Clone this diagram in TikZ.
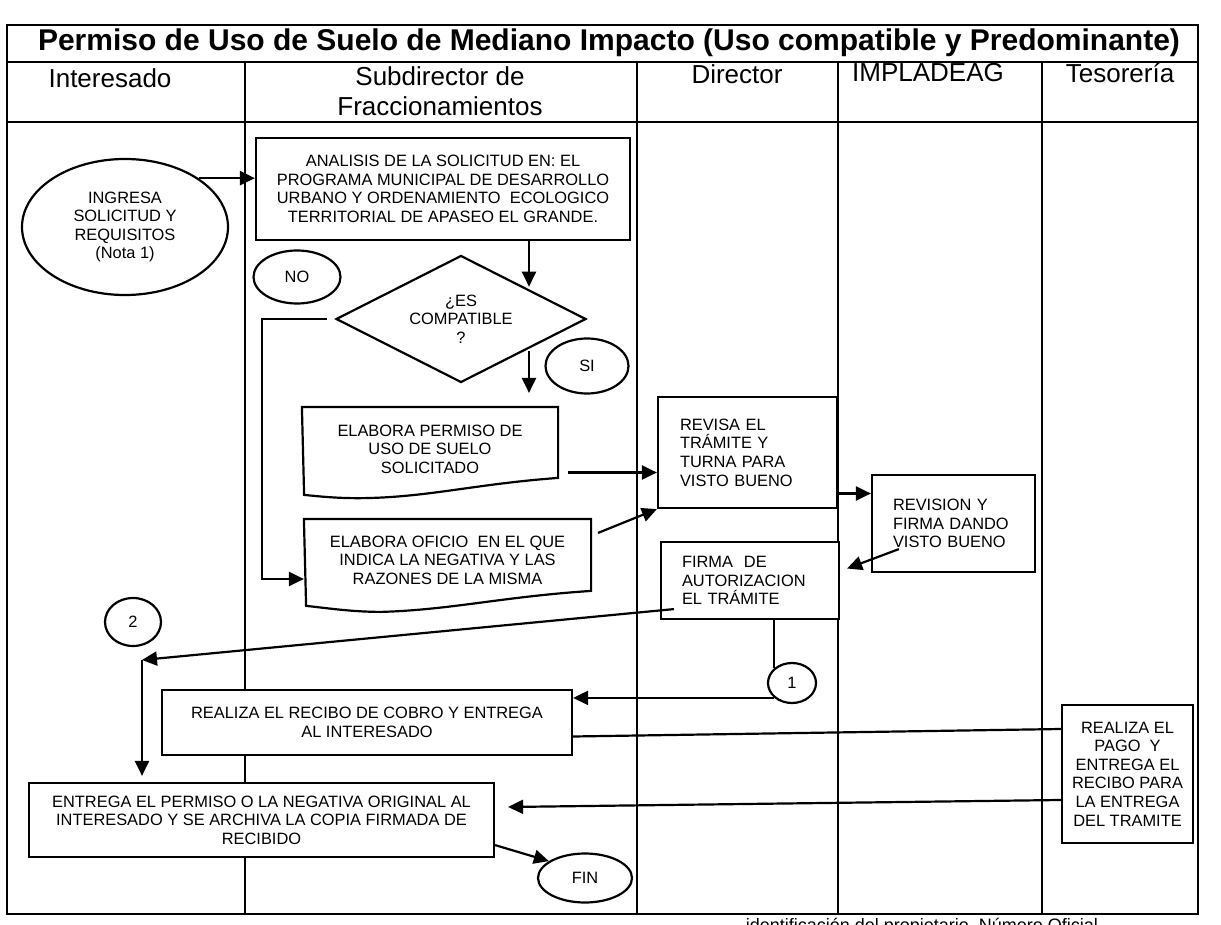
\documentclass[tikz,border=0pt]{standalone}
\usepackage{fontspec}
\setmainfont{Liberation Sans}
\usetikzlibrary{arrows.meta,shapes.geometric}

\begin{document}
\begin{tikzpicture}[x=0.5pt,y=-0.5pt,
	cadre/.style={line width=0.8pt},
	boite/.style={draw, line width=1.1pt, fill=white, inner sep=0pt, align=center, font=\fontsize{8.2}{9.3}\selectfont},
	gauche/.style={boite, align=left, inner ysep=0pt},
	rond/.style={boite, ellipse},
	titre/.style={font=\bfseries\fontsize{15}{17}\selectfont},
	entete/.style={font=\fontsize{13}{15}\selectfont, align=center},
	fleche/.style={-{Triangle[length=7.5pt,width=7pt]}, line width=1.1pt},
	trait/.style={line width=1.1pt}]
	%
	% Cadre et couloirs
	\useasboundingbox (0,0) rectangle (1221,925);
	\draw[cadre] (7,25) rectangle (1198,914);
	\draw[cadre] (7,62) -- (1198,62);
	\draw[cadre] (7,122) -- (1198,122);
	\foreach \x in {245,637,838,1042} \draw[cadre] (\x,62) -- (\x,914);
	%
	% Titre et en-tetes
	\node[titre] (titre) at (609,43) {Permiso de Uso de Suelo de Mediano Impacto (Uso compatible y Predominante)};
	\node[entete] (interesado) at (110,78) {Interesado};
	\node[entete] (subdirector) at (440,91) {Subdirector de\\Fraccionamientos};
	\node[entete] (director) at (737,74) {Director};
	\node[entete] (impladeag) at (928,73) {IMPLADEAG};
	\node[entete] (tesoreria) at (1120,73) {Tesorería};
	\node[anchor=base east, font=\fontsize{9}{10}\selectfont] (pied) at (1105,931) {identificación del propietario, Número Oficial};
	%
	% Etapes
	\node[rond, minimum width=103pt, minimum height=68pt] (ingresa) at (125,227) {INGRESA\\SOLICITUD Y\\REQUISITOS\\(Nota 1)};
	\node[boite, minimum width=187pt, minimum height=51pt] (analisis) at (443,189) {ANALISIS DE LA SOLICITUD EN: EL\\PROGRAMA MUNICIPAL DE DESARROLLO\\URBANO Y ORDENAMIENTO\ \ ECOLOGICO\\TERRITORIAL DE APASEO EL GRANDE.};
	\node[rond, minimum width=43.5pt, minimum height=26.5pt] (no) at (297,277) {NO};
	\node[boite, diamond, aspect=2, minimum width=125pt, minimum height=63.5pt] (compatible) at (461,319) {¿ES\\COMPATIBLE\\?};
	\node[rond, minimum width=41.5pt, minimum height=27.5pt] (si) at (587,366) {SI};
	\node[boite, draw=none, minimum width=127pt, minimum height=41pt] (permiso) at (430,449) {ELABORA PERMISO DE\\USO DE SUELO\\SOLICITADO};
	\draw[trait] (permiso.north west) -- (permiso.north east) -- ++(0,71) .. controls +(-80,6) and +(60,-2) .. ++(-185,20) .. controls +(-30,1) and +(20,2) .. ++(-69,-3) -- cycle;
	\node[boite, draw=none, fill=none, minimum width=142.5pt, minimum height=40pt] (oficio) at (447.5,560) {ELABORA OFICIO\ \ EN EL QUE\\INDICA LA NEGATIVA Y LAS\\RAZONES DE LA MISMA};
	\draw[trait] (oficio.north west) -- (oficio.north east) -- ++(0,72) .. controls +(-90,6) and +(70,-2) .. ++(-210,21) .. controls +(-30,0) and +(20,2) .. ++(-75,-6) -- cycle;
	\node[gauche, text width=67.5pt, inner xsep=11pt, minimum height=55.5pt] (revisa) at (747.5,452.5) {REVISA EL\\TRÁMITE Y\\TURNA PARA\\VISTO BUENO};
	\node[gauche, text width=60.5pt, inner xsep=10.5pt, minimum height=48.5pt] (revision) at (953.5,523.5) {REVISION Y\\FIRMA DANDO\\VISTO BUENO};
	\node[gauche, text width=68pt, inner xsep=10.5pt, minimum height=38.5pt] (firma) at (750,580.5) {FIRMA\ \ DE\\AUTORIZACION\\EL TRÁMITE};
	\node[rond, minimum width=24pt, minimum height=20pt] (un) at (792,683) {1};
	\node[rond, minimum width=28pt, minimum height=24pt] (deux) at (133,622) {2};
	\node[boite, minimum width=205pt, minimum height=32.5pt] (recibo) at (367,722.5) {REALIZA EL RECIBO DE COBRO Y ENTREGA\\AL INTERESADO};
	\node[boite, minimum width=232.5pt, minimum height=37pt] (entrega) at (261.5,820) {ENTREGA EL PERMISO O LA NEGATIVA ORIGINAL AL\\INTERESADO Y SE ARCHIVA LA COPIA FIRMADA DE\\RECIBIDO};
	\node[rond, minimum width=47pt, minimum height=24.5pt] (fin) at (585,878) {FIN};
	\node[boite, minimum width=65.5pt, minimum height=69pt] (pago) at (1127.5,774) {REALIZA EL\\PAGO\ \ Y\\ENTREGA EL\\RECIBO PARA\\LA ENTREGA\\DEL TRAMITE};
	%
	% Fleches
	\coordinate (axe) at (529,0);
	\coordinate (coude) at (142,660);
	\coordinate (versRevisa) at ([yshift=-10pt]revisa.west);
	\coordinate (versRevision) at ([yshift=15pt]revision.west);
	\draw[fleche] (ingresa.north east) -- (ingresa.north east -| analisis.west);
	\draw[fleche] (analisis.south -| axe) -- (axe |- compatible.north east);
	\draw[fleche, shorten >=7pt] (axe |- compatible.south east) -- (axe |- permiso.north);
	\draw[fleche] ([xshift=-4pt]compatible.west) -- ++(-65,0) |- ([yshift=-9.5pt]oficio.west);
	\draw[fleche, shorten <=5pt] (permiso.east |- versRevisa) -- (versRevisa);
	\draw[fleche] ([shift={(7,14)}]oficio.north east) -- (revisa.south west);
	\draw[fleche] (revisa.east |- versRevision) -- (versRevision);
	\draw[fleche] ([shift={(28,-24)}]revision.south west) -- ([shift={(7,-12)}]firma.east);
	\draw[trait] (un.north west |- firma.south) -- (un.north west);
	\draw[fleche] (un.south west) -- (recibo.east |- un.south west);
	\draw[trait] ([yshift=-7pt]recibo.east) -- ([yshift=22.5pt]pago.west);
	\draw[fleche] ([yshift=-13pt]pago.west) -- ([shift={(13,-13)}]entrega.east);
	\draw[fleche] ([shift={(14,-11)}]firma.south west) -- (coude);
	\draw[fleche, shorten >=3pt] (coude) -- (coude |- entrega.north);
	\draw[fleche] ([yshift=6.5pt]entrega.south east) -- (fin.155);
\end{tikzpicture}
\end{document}
